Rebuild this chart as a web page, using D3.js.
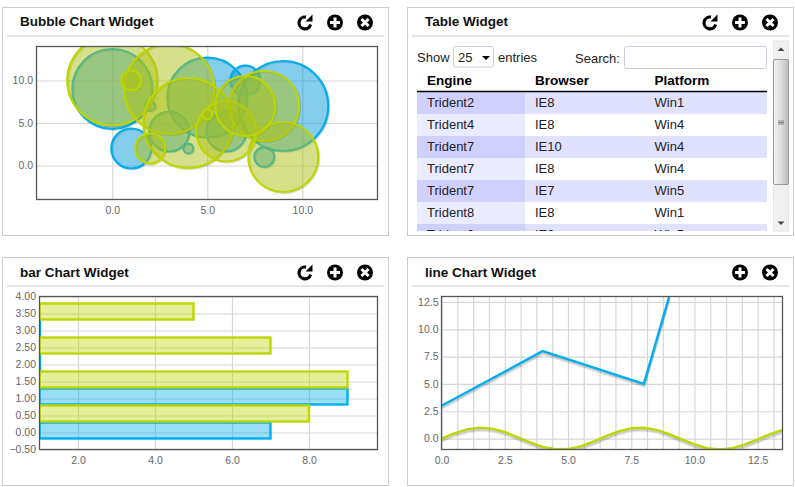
<!DOCTYPE html>
<html>
<head>
<meta charset="utf-8">
<script src="https://cdn.jsdelivr.net/npm/d3@7"></script>
<style>
html,body{margin:0;padding:0;background:#fff;overflow:hidden}
svg{display:block;font-family:"Liberation Sans",Arial,sans-serif}
.tick text{font-size:10.5px;fill:#666}
.grid line{stroke:#d6d6d6;stroke-width:1.2}
</style>
</head>
<body>
<svg width="795" height="487"></svg>
<script>
// bubble chart data, size is bubble diameter-ish units
var blueX = [0,1,2,3,4,5,6,7,8,9]
var blueY = [9,2,7,4,2,8,4,10,1,7]
var blueSize = [8,4,1,4,1,8,4,3,2,9]
var greenX = [0,1,2,3,4,5,6,7,8,9]
var greenY = [10,10,2,9,5,6,4,7,7,1]
var greenSize = [9,2,3,9,9,1,6,6,7,7]
var bubbleTicks = [0,5,10]

// bar chart data
var barBlueY = [0,1,2,3]
var barBlueX = [7,9,1,1]
var barGreenY = [0.5,1.5,2.5,3.5]
var barGreenX = [8,9,7,5]
var barXTicks = [2,4,6,8]
var barYTicks = [-0.5,0,0.5,1,1.5,2,2.5,3,3.5,4]

// line chart data
var lineBlueX = [0,4,8,9]
var lineBlueY = [3,8,5,13]
var lineGreenX = [0,0.5,1,1.5,2,2.5,3,3.5,4,4.5,5,5.5,6,6.5,7,7.5,8,8.5,9,9.5,10,10.5,11,11.5,12,12.5,13,13.5]
var lineGreenY = [0,0.48,0.84,1,0.91,0.6,0.14,-0.35,-0.76,-0.98,-0.96,-0.71,-0.28,0.22,0.66,0.94,0.99,0.8,0.41,-0.08,-0.54,-0.88,-1,-0.88,-0.54,-0.08,0.41,0.8]
var lineXTicks = [0,0.625,1.25,1.875,2.5,3.125,3.75,4.375,5,5.625,6.25,6.875,7.5,8.125,8.75,9.375,10,10.625,11.25,11.875,12.5,13.125]
var lineXLabels = [0,2.5,5,7.5,10,12.5]
var lineYTicks = [0,2.5,5,7.5,10,12.5]

// table data
var tableHeaders = ["Engine","Browser","Platform"]
var tableEngine = ["Trident2","Trident4","Trident7","Trident7","Trident7","Trident8","Trident9"]
var tableBrowser = ["IE8","IE8","IE10","IE8","IE7","IE8","IE9"]
var tablePlatform = ["Win1","Win4","Win4","Win4","Win5","Win1","Win5"]

var BLUE = "#00AEEF"
var GREEN = "#BED600"

var svg = d3.select("svg")

var panel = function(x,y,w,h,title,titleY,icons)
{
    var g = svg.append("g").attr("transform","translate("+x+","+y+")")
    g.append("rect")
        .attr("x",0.5).attr("y",0.5)
        .attr("width",w).attr("height",h)
        .attr("fill","#fff").attr("stroke","#ccc")
    g.append("line")
        .attr("x1",5).attr("x2",w-4)
        .attr("y1",29).attr("y2",29)
        .attr("stroke","#ccc")
    g.append("text")
        .attr("x",18)
        .attr("y",titleY)
        .attr("font-size",13.5)
        .attr("font-weight","bold")
        .attr("fill","#111")
        .text(title)
    icons.forEach(function(name,i){
        var cx = w-23-(icons.length-1-i)*30
        drawIcon(g.append("g").attr("transform","translate("+cx+",15.5)"),name)
    })
    return g
}

var drawIcon = function(g,name)
{
    if(name=="refresh")
    {
        g.append("path")
            .attr("d","M5.6,2 A5.9,5.9 0 1 1 1,-5.4")
            .attr("fill","none").attr("stroke","#000").attr("stroke-width",3.2)
        g.append("path").attr("d","M7.5,-8 L7.5,-1 L0.5,-1 Z").attr("fill","#000")
        return
    }
    g.append("circle").attr("r",8).attr("fill","#000")
    var cross = g.append("g")
    if(name=="close") cross.attr("transform","rotate(45)")
    cross.append("rect").attr("x",-5).attr("y",-1.5).attr("width",10).attr("height",3).attr("fill","#fff")
    cross.append("rect").attr("x",-1.5).attr("y",-5).attr("width",3).attr("height",10).attr("fill","#fff")
}

// plot frame with grid from the axes
var plotFrame = function(id,box,xScale,yScale,xTicks,yTicks,xFormat,yFormat)
{
    var g = svg.append("g")
    var w = box.right-box.left
    var h = box.bottom-box.top
    g.append("g")
        .attr("class","grid")
        .attr("transform","translate(0,"+box.bottom+")")
        .call(d3.axisBottom(xScale).tickValues(xTicks).tickSize(-h).tickPadding(box.xPad).tickFormat(xFormat))
        .call(function(a){a.select(".domain").remove()})
    g.append("g")
        .attr("class","grid")
        .attr("transform","translate("+box.left+",0)")
        .call(d3.axisLeft(yScale).tickValues(yTicks).tickSize(-w).tickPadding(box.yPad).tickFormat(yFormat))
        .call(function(a){a.select(".domain").remove()})
    svg.append("clipPath").attr("id",id)
        .append("rect").attr("x",box.left).attr("y",box.top).attr("width",w).attr("height",h)
    return g.append("g").attr("clip-path","url(#"+id+")")
}

var plotBorder = function(box)
{
    svg.append("rect")
        .attr("x",box.left).attr("y",box.top)
        .attr("width",box.right-box.left).attr("height",box.bottom-box.top)
        .attr("fill","none").attr("stroke","#555").attr("stroke-width",1.3)
}

// bubble widget
panel(2,7,386,228,"Bubble Chart Widget",19,["refresh","plus","close"])
var bubbleBox = {left:36.5,right:377.5,top:46.5,bottom:199.5,yPad:3.5,xPad:7}
var bubbleXScale = d3.scaleLinear().domain([-3.99,13.96]).range([bubbleBox.left,bubbleBox.right])
var bubbleYScale = d3.scaleLinear().domain([-4,14]).range([bubbleBox.bottom,bubbleBox.top])
var bubbleRadius = d3.scaleLinear().domain([0,10]).range([0,50])
var bubblePlot = plotFrame("clipBubble",bubbleBox,bubbleXScale,bubbleYScale,bubbleTicks,bubbleTicks,d3.format(".1f"),d3.format(".1f"))

var drawBubbles = function(xs,ys,sizes,stroke,fill)
{
    var idx = d3.range(xs.length).sort(function(a,b){return d3.descending(sizes[a],sizes[b])})
    bubblePlot.append("g").selectAll("circle").data(idx).enter().append("circle")
        .attr("cx",function(i){return bubbleXScale(xs[i])+1})
        .attr("cy",function(i){return bubbleYScale(ys[i])+1})
        .attr("r",function(i){return bubbleRadius(sizes[i])})
        .attr("fill","none").attr("stroke","#000").attr("stroke-opacity",0.15).attr("stroke-width",2)
    bubblePlot.append("g").selectAll("circle").data(idx).enter().append("circle")
        .attr("cx",function(i){return bubbleXScale(xs[i])})
        .attr("cy",function(i){return bubbleYScale(ys[i])})
        .attr("r",function(i){return bubbleRadius(sizes[i])})
        .attr("fill",fill).attr("stroke",stroke).attr("stroke-width",2.2)
}
drawBubbles(blueX,blueY,blueSize,BLUE,"rgba(0,150,215,0.48)")
drawBubbles(greenX,greenY,greenSize,GREEN,"rgba(173,193,21,0.5)")
plotBorder(bubbleBox)

// table widget
panel(407,7,386,228,"Table Widget",19,["refresh","plus","close"])
var colX = [427,535,654.5]
var rowY = d3.scaleBand().domain(d3.range(tableEngine.length)).range([92,246])
var tableText = function(x,y,str,bold)
{
    svg.append("text").attr("x",x).attr("y",y)
        .attr("font-size",bold?13.5:13).attr("font-weight",bold?"bold":"normal")
        .attr("fill",bold?"#000":"#222").text(str)
}
tableText(417,62,"Show")
svg.append("rect").attr("x",453.5).attr("y",46.5).attr("width",40).attr("height",20.5).attr("rx",2)
    .attr("fill","#fff").attr("stroke","#ccd")
tableText(458,62,"25")
svg.append("path").attr("d","M482,56 h8 l-4,4 z").attr("fill","#000")
tableText(498,62,"entries")
tableText(575,63,"Search:")
svg.append("rect").attr("x",624.5).attr("y",46.5).attr("width",142).attr("height",22).attr("rx",2)
    .attr("fill","#fff").attr("stroke","#ccd")
tableHeaders.forEach(function(h,i){tableText(colX[i],85,h,true)})
svg.append("clipPath").attr("id","clipTable").append("rect").attr("x",417).attr("y",92).attr("width",350).attr("height",139)
var rows = svg.append("g").attr("clip-path","url(#clipTable)")
    .selectAll("g").data(tableEngine).enter().append("g")
rows.append("rect").attr("x",417).attr("width",350).attr("y",function(d,i){return rowY(i)}).attr("height",rowY.bandwidth())
    .attr("fill",function(d,i){return i%2==0?"#e0e0ff":"#fff"})
rows.append("rect").attr("x",417).attr("width",108).attr("y",function(d,i){return rowY(i)}).attr("height",rowY.bandwidth())
    .attr("fill",function(d,i){return i%2==0?"#d0d0ff":"#ebebff"})
rows.append("text").attr("x",colX[0]).attr("y",function(d,i){return rowY(i)+15}).attr("font-size",13).attr("fill","#222").text(function(d){return d})
rows.append("text").attr("x",colX[1]).attr("y",function(d,i){return rowY(i)+15}).attr("font-size",13).attr("fill","#222").text(function(d,i){return tableBrowser[i]})
rows.append("text").attr("x",colX[2]).attr("y",function(d,i){return rowY(i)+15}).attr("font-size",13).attr("fill","#222").text(function(d,i){return tablePlatform[i]})
svg.append("line").attr("x1",417).attr("x2",767).attr("y1",91.5).attr("y2",91.5).attr("stroke","#000").attr("stroke-width",1.3)

// scrollbar
svg.append("rect").attr("x",773.5).attr("y",41).attr("width",15).attr("height",190).attr("fill","#f0f0f0").attr("stroke","#e4e4e4")
var thumbGrad = svg.append("linearGradient").attr("id","thumb")
thumbGrad.append("stop").attr("offset","0%").attr("stop-color","#f4f4f4")
thumbGrad.append("stop").attr("offset","55%").attr("stop-color","#dcdcdc")
thumbGrad.append("stop").attr("offset","100%").attr("stop-color","#bbb")
svg.append("rect").attr("x",773.5).attr("y",59.5).attr("width",15).attr("height",125).attr("rx",1.5).attr("fill","url(#thumb)").attr("stroke","#999")
svg.append("path").attr("d","M778,121 h6 M778,122.5 h6 M778,124 h6").attr("stroke","#888").attr("fill","none")
svg.append("path").attr("d","M781,47.5 l3.5,3.5 h-7 z").attr("fill","#444")
svg.append("path").attr("d","M781,225 l3.5,-3.5 h-7 z").attr("fill","#444")

// bar widget
panel(2,257,386,228,"bar Chart Widget",20,["refresh","plus","close"])
var barBox = {left:39.5,right:377.5,top:296.5,bottom:449.5,yPad:3.5,xPad:7}
var barXScale = d3.scaleLinear().domain([1,9.78]).range([barBox.left,barBox.right])
var barYScale = d3.scaleLinear().domain([-0.5,4]).range([barBox.bottom,barBox.top])
var barPlot = plotFrame("clipBar",barBox,barXScale,barYScale,barXTicks,barYTicks,d3.format(".1f"),d3.format(".2f"))

var drawBars = function(vals,ys,stroke,fill)
{
    // bars at the axis minimum keep a sliver so the stroke still shows
    barPlot.append("g").selectAll("rect").data(vals).enter().append("rect")
        .attr("x",barXScale(1))
        .attr("y",function(d,i){return barYScale(ys[i])-10})
        .attr("width",function(d){return Math.max(barXScale(d)-barXScale(1),0.5)})
        .attr("height",16)
        .attr("fill",fill).attr("stroke",stroke).attr("stroke-width",2.4)
}
drawBars(barBlueX,barBlueY,BLUE,"rgba(0,174,239,0.4)")
drawBars(barGreenX,barGreenY,GREEN,"rgba(190,214,0,0.4)")
plotBorder(barBox)

// line widget
panel(407,257,386,228,"line Chart Widget",20,["plus","close"])
var lineBox = {left:441.5,right:782.5,top:296.5,bottom:449.5,yPad:3,xPad:7.5}
var lineXScale = d3.scaleLinear().domain([0,13.48]).range([lineBox.left,lineBox.right])
var lineYScale = d3.scaleLinear().domain([-1,13]).range([lineBox.bottom,lineBox.top])
var lineXFormat = function(d){return lineXLabels.indexOf(d)>=0 ? d3.format(".1f")(d) : ""}
var linePlot = plotFrame("clipLine",lineBox,lineXScale,lineYScale,lineXTicks,lineYTicks,lineXFormat,d3.format(".1f"))

var drawLine = function(xs,ys,stroke)
{
    var lineGenerator = d3.line()
        .x(function(i){return lineXScale(xs[i])})
        .y(function(i){return lineYScale(ys[i])})
    var idx = d3.range(xs.length)
    ;[3,2,1].forEach(function(off){
        linePlot.append("path").datum(idx)
            .attr("d",lineGenerator)
            .attr("transform","translate(0.5,"+off+")")
            .attr("fill","none").attr("stroke","#000").attr("stroke-opacity",0.09).attr("stroke-width",2.2)
    })
    linePlot.append("path").datum(idx)
        .attr("d",lineGenerator)
        .attr("fill","none").attr("stroke",stroke).attr("stroke-width",2.4)
}
drawLine(lineBlueX,lineBlueY,BLUE)
drawLine(lineGreenX,lineGreenY,GREEN)
plotBorder(lineBox)
</script>
</body>
</html>
